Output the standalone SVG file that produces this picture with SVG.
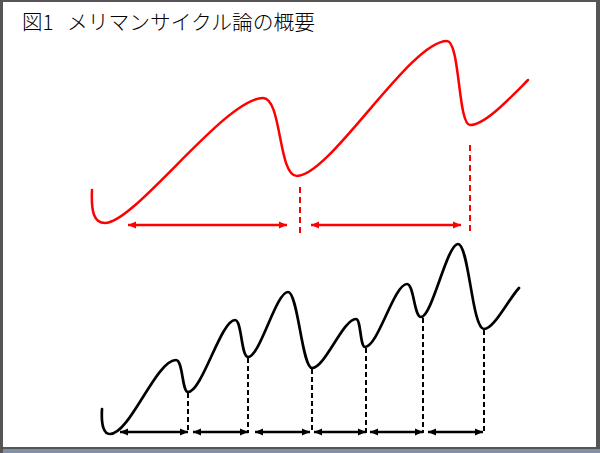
<svg xmlns="http://www.w3.org/2000/svg" width="600" height="453" viewBox="0 0 600 453">
  <style>
    .title { font-family: "Noto Sans CJK JP", "Noto Sans", sans-serif; font-size: 20.5px; font-weight: 300; fill: #000; }
    .red { fill: none; stroke: #ff0000; stroke-width: 2.5; stroke-linecap: round; stroke-linejoin: round; }
    .black { fill: none; stroke: #000; stroke-width: 2.7; stroke-linecap: round; stroke-linejoin: round; }
    .rdash { fill: none; stroke: #ff0000; stroke-width: 2; stroke-dasharray: 6 4; }
    .kdash { fill: none; stroke: #000; stroke-width: 2; stroke-dasharray: 5 3; }
    .rarrow { fill: none; stroke: #ff0000; stroke-width: 2.5; marker-start: url(#rhead); marker-end: url(#rhead); }
    .karrow { fill: none; stroke: #000; stroke-width: 2.5; marker-start: url(#khead); marker-end: url(#khead); }
  </style>
  <defs>
    <marker id="rhead" markerUnits="userSpaceOnUse" markerWidth="10" markerHeight="10" viewBox="0 0 10 10" refX="9" refY="5" orient="auto-start-reverse">
      <path d="M1,1.5 L9,5 L1,8.5 Z" fill="#ff0000"/>
    </marker>
    <marker id="khead" markerUnits="userSpaceOnUse" markerWidth="9" markerHeight="9" viewBox="0 0 9 9" refX="8.5" refY="4.5" orient="auto-start-reverse">
      <path d="M0.5,1 L8.5,4.5 L0.5,8 Z" fill="#000"/>
    </marker>
  </defs>

  <g id="frame">
    <rect x="0" y="0" width="600" height="453" fill="#555555"/>
    <rect x="3" y="2" width="593" height="445" fill="#ffffff"/>
    <rect x="3" y="449" width="597" height="4" fill="#8090a6"/>
  </g>

  <g id="title">
    <text class="title" x="22" y="30">図1</text>
    <text class="title" x="67" y="30" textLength="248" lengthAdjust="spacingAndGlyphs">メリマンサイクル論の概要</text>
  </g>

  <g id="long-cycle">
    <path class="red" d="M92,190 C91,212 94,223 105,223 C135,223 225,98 263,98 C282,98 278,176 297,176 C330,176 410,41 447,41 C460,41 458,125 470,125 C485,125 510,98 528,80"/>
  </g>

  <g id="short-cycle">
    <path class="black" d="M102,409 C101,426 104,434 110,434 C130,434 156,360 176,360 C183,360 182,392 188,392 C202,392 221,320 235,320 C242,320 241,357 248,357 C260,357 276,292 288,292 C298,292 302,368 312,368 C325,368 343,319 356,319 C361,319 360,347 365,347 C378,347 394,284 407,284 C414,284 414,317 421,317 C432,317 447,244 458,244 C469,244 472,329 484,329 C494,329 508,300 519,288"/>
  </g>

  <g id="connectors">
    <line class="rdash" x1="300" y1="187" x2="300" y2="235"/>
    <line class="rdash" x1="470" y1="145" x2="470" y2="235"/>
    <line class="rarrow" x1="128" y1="225" x2="287" y2="225"/>
    <line class="rarrow" x1="311" y1="225" x2="461" y2="225"/>

    <line class="kdash" x1="188" y1="393" x2="188" y2="433"/>
    <line class="kdash" x1="248" y1="358" x2="248" y2="433"/>
    <line class="kdash" x1="312" y1="369" x2="312" y2="433"/>
    <line class="kdash" x1="366" y1="348" x2="366" y2="433"/>
    <line class="kdash" x1="423" y1="318" x2="423" y2="433"/>
    <line class="kdash" x1="484" y1="330" x2="484" y2="433"/>

    <line class="karrow" x1="120" y1="432" x2="188" y2="432"/>
    <line class="karrow" x1="193" y1="432" x2="248" y2="432"/>
    <line class="karrow" x1="255" y1="432" x2="310" y2="432"/>
    <line class="karrow" x1="314" y1="432" x2="366" y2="432"/>
    <line class="karrow" x1="370" y1="432" x2="423" y2="432"/>
    <line class="karrow" x1="428" y1="432" x2="483" y2="432"/>
  </g>
</svg>
